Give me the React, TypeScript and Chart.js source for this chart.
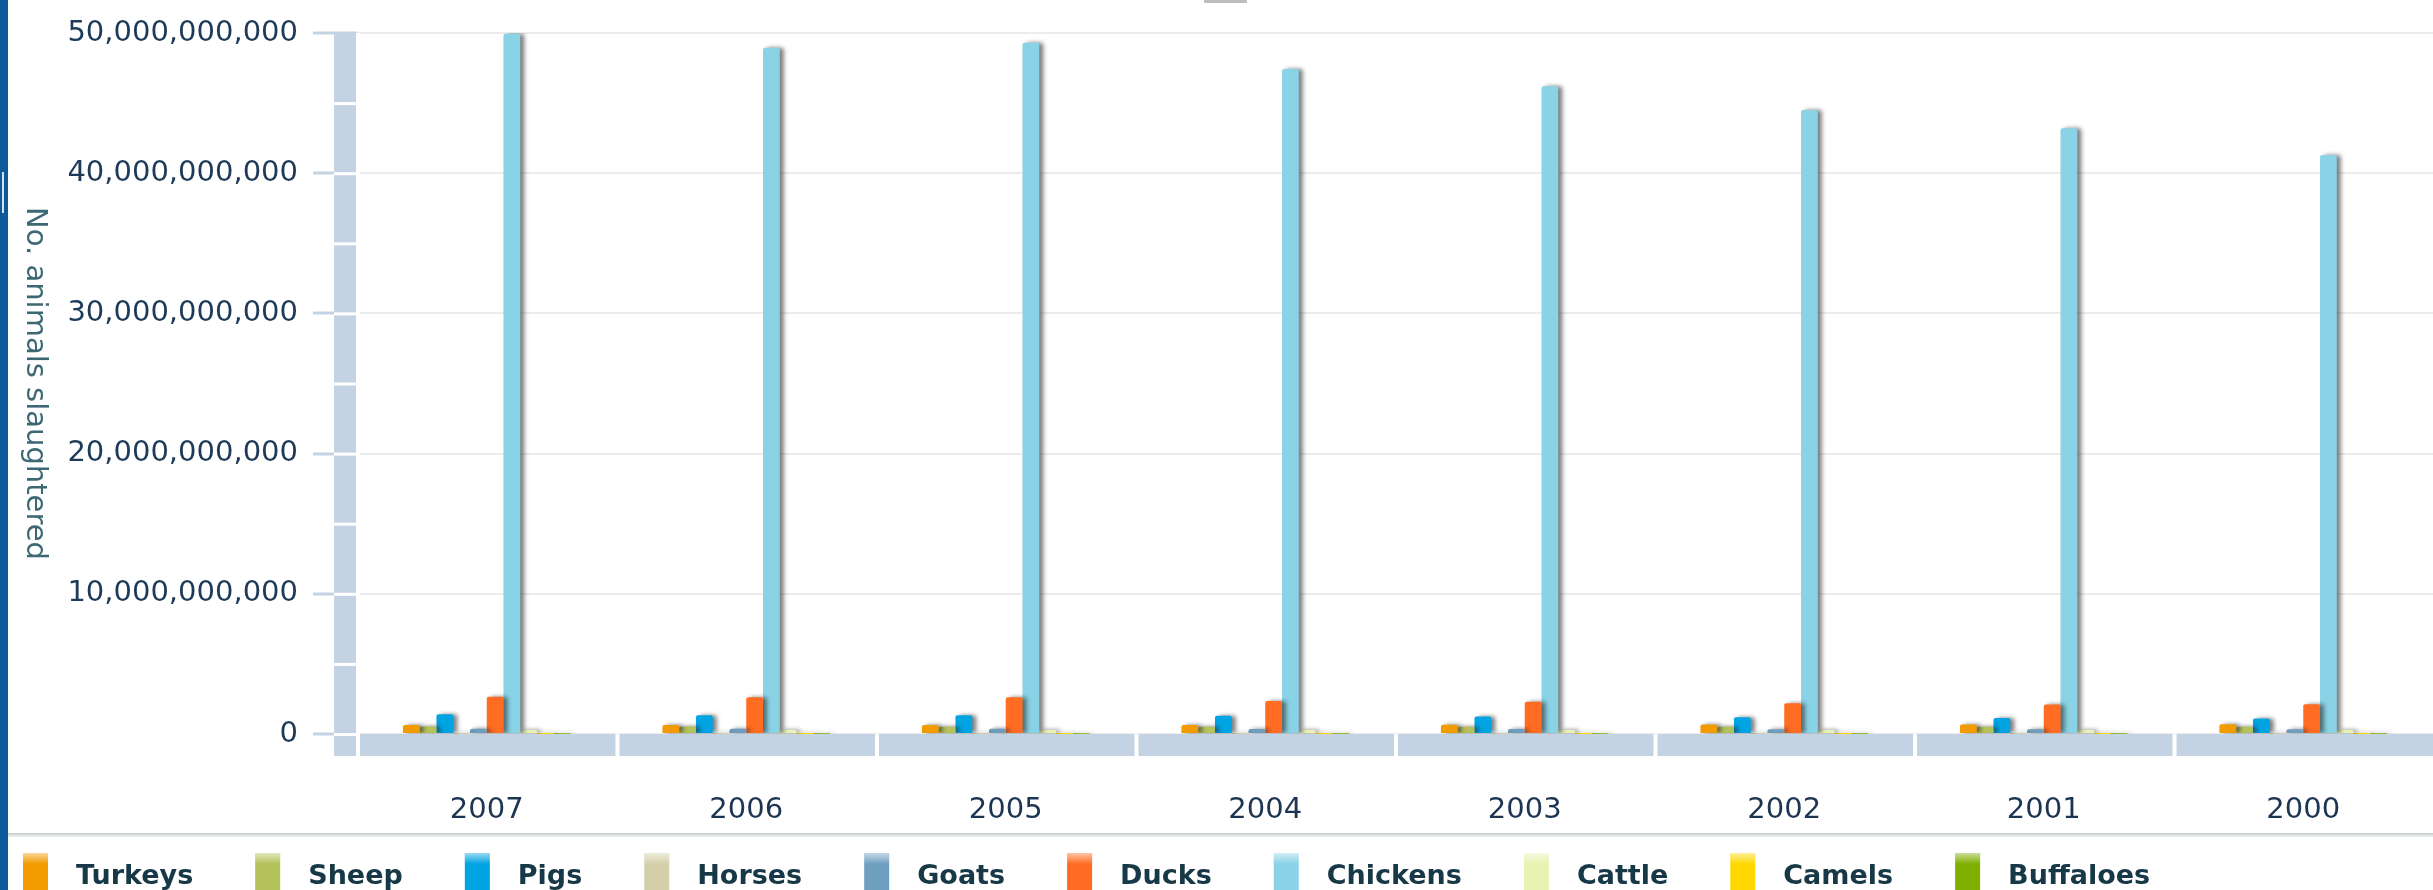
import React, { useEffect, useRef } from 'react';
import { Chart, registerables } from 'chart.js';

Chart.register(...registerables);

const years = ['2007', '2006', '2005', '2004', '2003', '2002', '2001', '2000'];

const seriesNames = ['Turkeys', 'Sheep', 'Pigs', 'Horses', 'Goats', 'Ducks', 'Chickens', 'Cattle', 'Camels', 'Buffaloes'];
const seriesColors = ['#f29b00', '#b4c25b', '#00a4e2', '#d3d0a9', '#6f9fbf', '#ff6c22', '#8ad3e6', '#e8f2b2', '#ffd800', '#7fb000'];

const turkeys = [0.64e9, 0.64e9, 0.64e9, 0.65e9, 0.66e9, 0.67e9, 0.68e9, 0.69e9];
const sheep = [0.53e9, 0.53e9, 0.52e9, 0.52e9, 0.51e9, 0.51e9, 0.52e9, 0.52e9];
const pigs = [1.4e9, 1.33e9, 1.33e9, 1.3e9, 1.25e9, 1.2e9, 1.15e9, 1.1e9];
const horses = [5.0e6, 4.9e6, 4.9e6, 4.8e6, 4.8e6, 4.7e6, 4.7e6, 4.6e6];
const goats = [0.38e9, 0.37e9, 0.37e9, 0.36e9, 0.35e9, 0.34e9, 0.34e9, 0.33e9];
const ducks = [2.66e9, 2.62e9, 2.62e9, 2.35e9, 2.3e9, 2.2e9, 2.1e9, 2.12e9];
const chickens = [49.95e9, 48.94e9, 49.3e9, 47.43e9, 46.2e9, 44.5e9, 43.2e9, 41.3e9];
const cattle = [0.29e9, 0.29e9, 0.29e9, 0.29e9, 0.29e9, 0.28e9, 0.28e9, 0.29e9];
const camels = [1.7e6, 1.7e6, 1.6e6, 1.6e6, 1.6e6, 1.5e6, 1.5e6, 1.5e6];
const buffaloes = [23e6, 23e6, 22e6, 22e6, 22e6, 21e6, 21e6, 21e6];

const seriesValues = [turkeys, sheep, pigs, horses, goats, ducks, chickens, cattle, camels, buffaloes];

const yTicks = [0, 10e9, 20e9, 30e9, 40e9, 50e9];
const yTitle = 'No. animals slaughtered';

const W = 2433;
const H = 890;

export default function App() {
  const ref = useRef<HTMLCanvasElement | null>(null);

  useEffect(() => {
    document.body.style.margin = '0';
    document.body.style.background = '#ffffff';
    const canvas = ref.current;
    if (!canvas) return;

    const decor = {
      id: 'decor',
      beforeDraw(chart: any) {
        const ctx = chart.ctx;
        ctx.save();
        ctx.fillStyle = '#ffffff';
        ctx.fillRect(0, 0, W, H);
        ctx.restore();
      },
      beforeDatasetsDraw(chart: any) {
        const ctx = chart.ctx;
        const ca = chart.chartArea;
        const y = chart.scales.y;
        const zero = y.getPixelForValue(0);
        const top = y.getPixelForValue(50e9);
        const floorH = 22;
        ctx.save();
        // wall
        ctx.fillStyle = '#c4d3e3';
        const wallL = ca.left - 23;
        ctx.fillRect(wallL, top, 23, zero + floorH - top);
        ctx.fillStyle = '#ffffff';
        for (let v = 0; v < 50e9; v += 5e9) {
          const py = y.getPixelForValue(v);
          ctx.fillRect(wallL, py - 1, 23, 3);
        }
        ctx.fillRect(ca.left - 1, top, 4, zero + floorH - top);
        // floor
        ctx.fillStyle = '#c4d3e3';
        ctx.fillRect(ca.left + 3, zero, ca.right - ca.left, floorH);
        ctx.fillStyle = '#ffffff';
        const cw = (ca.right - ca.left) / years.length;
        for (let i = 1; i < years.length; i++) {
          const px = ca.left + cw * i;
          ctx.fillRect(px - 1, zero, 4, floorH);
        }
        ctx.restore();
        // shadow for bars
        ctx.save();
        ctx.shadowColor = 'rgba(40,40,40,0.6)';
        ctx.shadowOffsetX = 4;
        ctx.shadowOffsetY = 0;
        ctx.shadowBlur = 4;
      },
      afterDatasetsDraw(chart: any) {
        chart.ctx.restore();
      },
      afterDraw(chart: any) {
        const ctx = chart.ctx;
        const ca = chart.chartArea;
        ctx.save();
        // left border
        ctx.fillStyle = '#0c5a9b';
        ctx.fillRect(0, 0, 8, H);
        ctx.fillStyle = 'rgba(235,240,245,0.9)';
        ctx.fillRect(2, 172, 2, 41);
        // top small bar
        ctx.fillStyle = '#bdbdbd';
        ctx.fillRect(1204, 0, 43, 3);
        // y title
        ctx.translate(35, (ca.top + ca.bottom) / 2);
        ctx.rotate(Math.PI / 2);
        ctx.font = '29px "DejaVu Sans"';
        ctx.fillStyle = '#3c6873';
        ctx.textAlign = 'center';
        ctx.textBaseline = 'middle';
        ctx.fillText(yTitle, 0, 0);
        ctx.restore();

        // divider
        ctx.save();
        ctx.fillStyle = '#cfd4d6';
        ctx.fillRect(8, 833, W - 8, 2);
        ctx.fillStyle = '#e8ebec';
        ctx.fillRect(8, 835, W - 8, 2);

        // legend
        ctx.font = 'bold 27px "DejaVu Sans"';
        ctx.textBaseline = 'alphabetic';
        ctx.textAlign = 'left';
        let lx = 23;
        for (let i = 0; i < seriesNames.length; i++) {
          const grad = ctx.createLinearGradient(0, 853, 0, 864);
          grad.addColorStop(0, 'rgba(255,255,255,0.6)');
          grad.addColorStop(1, 'rgba(255,255,255,0)');
          ctx.fillStyle = seriesColors[i];
          ctx.fillRect(lx, 853, 25, H - 853);
          ctx.fillStyle = grad;
          ctx.fillRect(lx, 853, 25, 11);
          const tx = lx + 25 + 28;
          ctx.fillStyle = '#173846';
          ctx.fillText(seriesNames[i], tx, 884);
          lx = tx + ctx.measureText(seriesNames[i]).width + 62;
        }
        ctx.restore();
      },
    };

    const chart = new Chart(canvas, {
      type: 'bar',
      data: {
        labels: years,
        datasets: seriesNames.map((name, i) => ({
          label: name,
          data: seriesValues[i],
          backgroundColor: seriesColors[i],
          borderWidth: 0,
          borderRadius: 2,
          categoryPercentage: 0.646,
          barPercentage: 1.0,
        })),
      },
      options: {
        responsive: false,
        animation: false,
        layout: { padding: { top: 33, left: 0, right: 0, bottom: 0 } },
        plugins: {
          legend: { display: false },
          title: { display: false },
          tooltip: { enabled: false },
        },
        scales: {
          x: {
            grid: { display: false },
            border: { display: false },
            ticks: {
              color: '#1d3552',
              font: { family: 'DejaVu Sans', size: 29 },
              padding: 51,
            },
            afterFit(scale: any) {
              scale.height = H - 734;
            },
          },
          y: {
            min: 0,
            max: 50e9,
            border: { display: false },
            grid: {
              color: '#ececec',
              lineWidth: 2,
              tickColor: '#c4d3e3',
              tickLength: 44,
              tickWidth: 3,
              drawTicks: true,
            },
            ticks: {
              color: '#1d3a58',
              font: { family: 'DejaVu Sans', size: 29 },
              padding: 15,
              callback: (v: any) => Number(v).toLocaleString('en-US'),
            },
            afterBuildTicks(scale: any) {
              scale.ticks = yTicks.map((v) => ({ value: v }));
            },
            afterFit(scale: any) {
              scale.width = 357;
            },
          },
        },
      },
      plugins: [decor],
    });

    return () => chart.destroy();
  }, []);

  return <canvas ref={ref} width={W} height={H} style={{ display: 'block' }} />;
}
